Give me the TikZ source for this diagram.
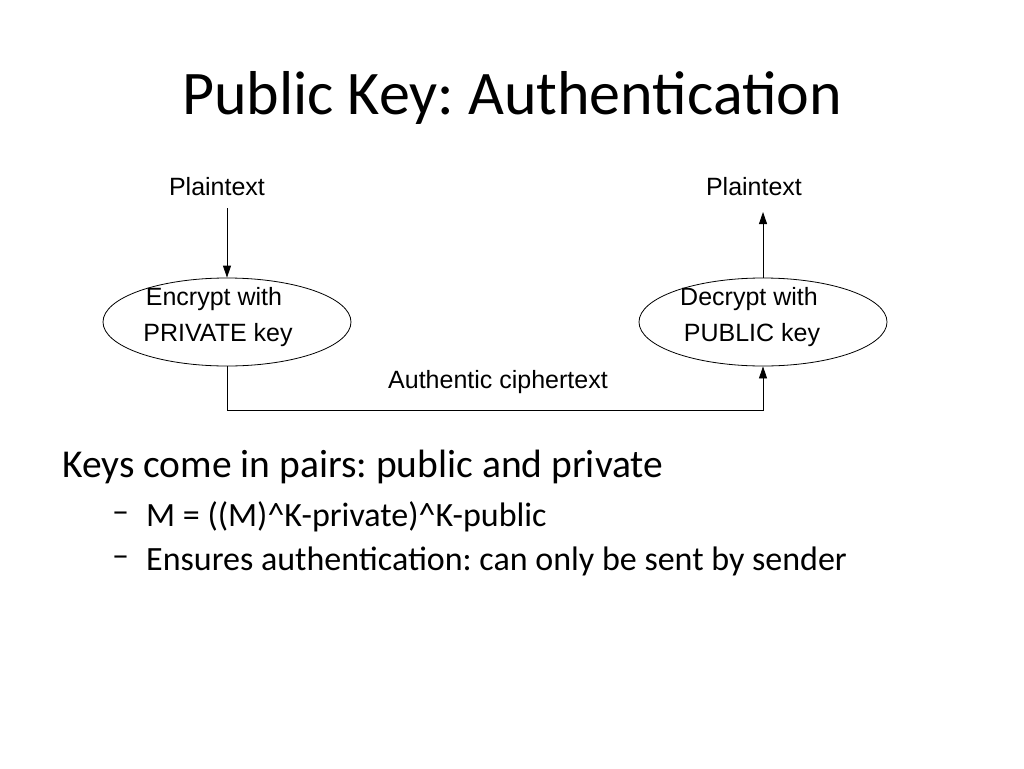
\documentclass[tikz,border=0pt]{standalone}
\usepackage{fontspec}
\usetikzlibrary{shapes.geometric,arrows.meta}
\setmainfont{Carlito}
\newfontfamily\arial{Liberation Sans}
\frenchspacing
\begin{document}
\begin{tikzpicture}[x=1pt,y=-1pt,
  lbl/.style={font=\arial\fontsize{25}{28}\selectfont},
  ell/.style={draw,thick,ellipse,minimum width=248pt,minimum height=88pt},
  arr/.style={thick,-{Triangle[length=12pt,width=8pt]}}]
\useasboundingbox (0,0) rectangle (1024,768);
\node (title) at (512,98) {\fontsize{62}{68}\selectfont Public Key: Authentication};
\node[lbl] (p1) at (217,187) {Plaintext};
\node[lbl] (p2) at (754,187) {Plaintext};
\node[ell] (e1) at (227,322) {};
\node[ell] (e2) at (763,322) {};
\node[lbl] (t1) at (214,299) {Encrypt with};
\node[lbl] (t2) at (218,335) {PRIVATE key};
\node[lbl] (t3) at (749,299) {Decrypt with};
\node[lbl] (t4) at (752,335) {PUBLIC key};
\node[lbl] (ac) at (498,382) {Authentic ciphertext};
\coordinate (a1) at (227,208);
\coordinate (a2) at (763,212);
\draw[arr] (a1) -- (e1.north);
\draw[arr] (e2.north) -- (a2);
\draw[arr] (e1.south) -- ++(0,44) -| (e2.south);
\node[anchor=west,inner sep=0pt] (k) at (62,467) {\fontsize{39.5}{44}\selectfont Keys come in pairs: public and private};
\node[anchor=west,inner sep=0pt] (d1) at (112,517) {\fontsize{34}{38}\selectfont --};
\node[anchor=west,inner sep=0pt] (b1) at (146,517) {\fontsize{34}{38}\selectfont M = ((M)\^{}K-private)\^{}K-public};
\node[anchor=west,inner sep=0pt] (d2) at (112,561) {\fontsize{34}{38}\selectfont --};
\node[anchor=west,inner sep=0pt] (b2) at (146,561) {\fontsize{34}{38}\selectfont Ensures authentication: can only be sent by sender};
\end{tikzpicture}
\end{document}
